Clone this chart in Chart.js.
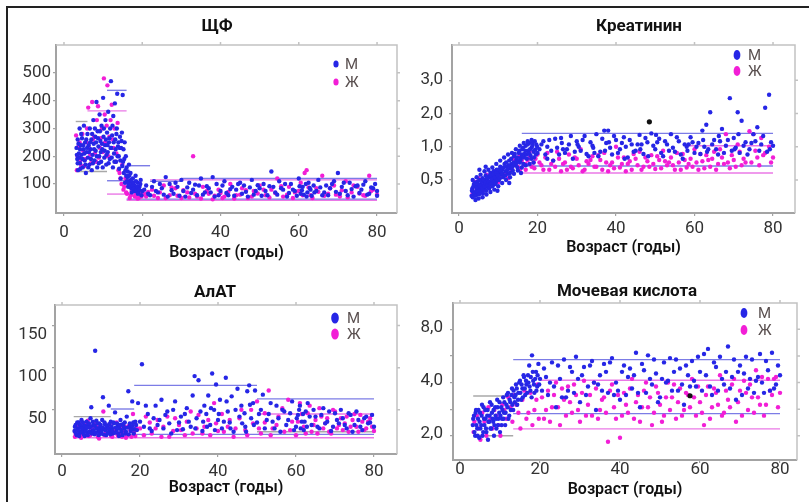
<!DOCTYPE html>
<html>
<head>
<meta charset="utf-8">
<script src="https://cdn.jsdelivr.net/npm/chart.js@4.4.0/dist/chart.umd.min.js"></script>
<style>
body { margin:0; background:#fff; width:809px; height:502px; overflow:hidden; position:relative; }
.frame { position:absolute; left:6px; top:6px; width:830px; height:520px; border-top:2px solid #222; border-left:2px solid #222; }
canvas { position:absolute; }
</style>
</head>
<body>
<div class="frame"></div>
<canvas id="alp" width="400" height="260" style="left:8px;top:8px"></canvas>
<canvas id="creat" width="398" height="260" style="left:410px;top:8px"></canvas>
<canvas id="alat" width="400" height="234" style="left:8px;top:268px"></canvas>
<canvas id="ua" width="398" height="234" style="left:410px;top:268px"></canvas>
<script>
// ---- data ----
var seriesLabels = ['М', 'Ж'];
var xTitle = 'Возраст (годы)';
var ageTicks = [0, 20, 40, 60, 80];

// ЩФ
var alpTicks = [100, 200, 300, 400, 500];
var alpM = [[3.2,230],[3.4,190],[3.5,260],[3.6,150],[3.8,210],[4.0,300],[4.1,175],[4.3,240],[4.5,205],[4.6,265],[4.8,160],[5.0,225],[5.1,310],[5.3,185],[5.4,250],[5.6,140],[5.8,215],[6.0,280],[6.1,195],[6.3,240],[6.5,170],[6.6,300],[6.8,225],[7.0,260],[7.1,150],[7.3,205],[7.5,330],[7.6,245],[7.8,185],[8.0,270],[8.1,220],[8.3,395],[8.5,160],[8.6,290],[8.8,235],[9.0,200],[9.1,350],[9.3,255],[9.5,180],[9.6,310],[9.8,225],[10.0,410],[10.1,270],[10.3,195],[10.5,240],[10.6,330],[10.8,170],[11.0,285],[11.2,215],[11.3,360],[11.5,250],[11.7,190],[11.8,300],[12.0,470],[12.1,230],[12.3,275],[12.5,160],[12.6,345],[12.8,210],[13.0,390],[13.1,260],[13.3,180],[13.5,300],[13.6,425],[13.8,235],[14.0,200],[14.1,155],[14.3,270],[14.5,120],[14.6,230],[14.8,285],[15.0,420],[15.1,180],[15.3,140],[15.5,250],[15.6,105],[15.8,200],[16.0,160],[16.2,125],[16.4,90],[16.6,170],[16.8,110],[17.0,140],[17.2,85],[17.4,100],[17.6,120],[17.8,75],[18.0,95],[18.3,130],[18.5,80],[18.8,105],[19.0,70],[19.3,90],[19.6,115],[20.0,75],
  [3.3,205],[3.5,175],[3.7,245],[3.9,195],[4.1,225],[4.2,155],[4.4,280],[4.7,190],[4.9,240],[5.2,210],[5.5,170],[5.7,260],[5.9,230],[6.2,160],[6.4,215],[6.7,250],[6.9,190],[7.2,280],[7.4,175],[7.7,225],[7.9,300],[8.2,250],[8.4,200],[8.7,265],[8.9,175],[9.2,290],[9.4,215],[9.7,245],[9.9,160],[10.2,300],[10.4,220],[10.7,260],[10.9,205],[11.1,240],[11.4,175],[11.6,265],[11.9,230],[12.2,195],[12.4,310],[12.7,250],[12.9,180],[13.2,225],[13.4,280],[13.7,200],[13.9,250],[14.2,230],[14.4,185],[14.7,255],[14.9,165],[15.2,225],[15.4,190],[15.7,150],[15.9,130],[16.1,110],[16.3,145],[16.5,100],[16.7,130],[16.9,90],[17.1,115],[17.3,70],[17.5,95],[17.7,105],[17.9,85],[18.2,75],[18.4,110],[18.7,90],[18.9,65],[19.2,80],[19.5,100],[19.8,60],
  [21,95],[22,60],[23,110],[24,70],[25,85],[26,125],[26.5,55],[27,100],[28,65],[29,90],[30,115],[30.5,75],[31,55],[32,105],[33,80],[34,60],[34.5,95],[35,120],[36,70],[37,85],[38,125],[38.5,55],[39,100],[40,75],[41,110],[42,60],[43,90],[44,80],[45,105],[45.5,65],[46,95],[47,55],[48,115],[49,75],[50,85],[51,100],[52,60],[53,145],[53.5,90],[54,70],[55,110],[56,80],[57,55],[58,100],[59,75],[60,120],[60.5,65],[61,90],[62,55],[62.5,105],[63,80],[64,70],[65,115],[66,60],[67,95],[68,85],[69,110],[70,140],[70.5,65],[71,90],[72,75],[73,105],[74,55],[75,95],[76,80],[77,110],[78,65],[79,85],[80,75],[79.5,100],
  [20.5,80],[21.5,65],[22.5,90],[23.5,75],[24.5,100],[25.5,62],[27.5,78],[28.5,105],[29.5,58],[31.5,88],[32.5,68],[33.5,98],[35.5,62],[36.5,92],[37.5,70],[39.5,60],[40.5,95],[41.5,68],[42.5,82],[43.5,58],[44.5,100],[46.5,72],[47.5,88],[48.5,62],[49.5,96],[50.5,58],[51.5,75],[52.5,92],[54.5,62],[55.5,85],[56.5,100],[57.5,68],[58.5,80],[59.5,58],[60.2,92],[60.8,78],[61.3,62],[61.8,100],[62.2,70],[62.8,86],[63.3,58],[63.8,95],[64.5,75],[65.5,88],[66.5,70],[67.5,60],[68.5,100],[69.5,72],[71.5,105],[72.5,60],[73.5,82],[74.5,92],[75.5,68],[76.5,98],[77.5,62],[78.5,88],[80,58]];
var alpF = [[3.1,275],[3.3,150],[3.7,235],[4.2,185],[4.7,280],[5.2,165],[5.7,250],[6.2,375],[6.7,205],[7.2,395],[7.7,270],[8.2,180],[8.7,380],[9.2,230],[9.7,300],[10.2,480],[10.4,350],[10.7,200],[11.1,455],[11.6,270],[12.2,385],[12.7,230],[13.2,180],[13.7,320],[14.2,140],[14.7,100],[15.2,80],[15.7,120],[16.1,65],[16.5,95],[17.1,60],[17.5,80],[18.1,55],[18.6,70],[19.1,50],[19.5,62],
  [3.5,200],[4.0,250],[4.4,165],[4.9,220],[5.4,190],[5.9,300],[6.4,230],[6.9,175],[7.4,260],[7.9,210],[8.4,330],[8.9,195],[9.4,265],[9.9,215],[10.5,250],[10.9,310],[11.4,200],[11.9,330],[12.4,260],[12.9,300],[13.4,210],[13.9,150],[14.4,120],[14.9,170],[15.4,90],[15.9,70],[16.3,110],[16.8,50],[17.3,75],[17.8,90],[18.3,62],[18.8,48],[19.3,75],[19.8,55],
  [21,55],[22.5,80],[24,50],[25.5,95],[27,60],[28.5,85],[30,50],[31.5,70],[33,200],[34,55],[35.5,90],[37,65],[38,45],[39.5,80],[41,55],[42.5,100],[44,60],[45.5,85],[47,50],[48.5,75],[50,95],[51.5,60],[53,80],[54.5,120],[56,55],[57.5,90],[59,70],[60.5,105],[61.5,140],[62,150],[63,60],[64.5,85],[66,130],[67.5,65],[69,95],[70.5,55],[72,110],[73.5,70],[75,90],[76.5,60],[78,130],[79,80],
  [20.5,65],[21.5,72],[23,58],[24.5,70],[26,50],[27.5,88],[29,58],[30.5,78],[32,52],[33.5,65],[35,48],[36.5,75],[38.5,58],[40,68],[40.5,50],[42,72],[43.5,48],[45,62],[46.5,78],[48,55],[49.5,66],[51,80],[52.5,52],[54,68],[55.5,92],[57,62],[58.5,50],[60,75],[61,60],[62.5,88],[63.5,50],[65,72],[66.5,58],[68,85],[69.5,62],[71,78],[72.5,52],[74,95],[75.5,66],[77,58],[78.5,75],[80,62]];
// [sex, age from, age to, limit]
var alpLimits = [['N',3,6,325],['N',3,11,145],['F',6,16,363],['M',11,16,437],['M',11,16,112],['M',16,22,166],['F',11,19,64],['M',22,30,110],['F',22,80,115],['M',30,80,120],['M',16,80,46],['F',16,80,42]];

// Креатинин
var creatTicks = [0.5, 1, 2, 4];
var creatTickLabels = ['0,5', '1,0', '2,0', '3,0'];
var creatM = [[3.2,0.36],[3.4,0.42],[3.6,0.39],[3.8,0.46],[4.0,0.37],[4.2,0.44],[4.4,0.40],[4.6,0.48],[4.8,0.38],[5.0,0.43],[5.2,0.50],[5.4,0.41],[5.6,0.46],[5.8,0.39],[6.0,0.52],[6.2,0.44],[6.4,0.48],[6.6,0.41],[6.8,0.55],[7.0,0.46],[7.2,0.50],[7.4,0.43],[7.6,0.53],[7.8,0.47],[8.0,0.58],[8.2,0.49],[8.4,0.54],[8.6,0.45],[8.8,0.60],[9.0,0.51],[9.2,0.56],[9.4,0.48],[9.6,0.62],[9.8,0.53],[10.0,0.58],[10.2,0.50],[10.5,0.66],[10.8,0.56],[11.0,0.62],[11.3,0.53],[11.6,0.70],[11.9,0.60],[12.2,0.66],[12.5,0.57],[12.8,0.75],[13.1,0.64],[13.4,0.70],[13.7,0.61],[14.0,0.82],[14.3,0.68],[14.6,0.76],[14.9,0.65],[15.2,0.88],[15.5,0.72],[15.8,0.80],[16.1,0.95],[16.4,0.70],[16.7,0.86],[17.0,1.02],[17.3,0.78],[17.6,0.92],[17.9,1.08],[18.2,0.84],[18.5,0.98],[18.8,1.10],[19.1,0.80],[19.4,0.94],[19.7,1.05],[20.0,0.88],
  [3.3,0.40],[3.5,0.35],[3.7,0.44],[3.9,0.38],[4.1,0.47],[4.3,0.36],[4.5,0.43],[4.7,0.39],[4.9,0.46],[5.1,0.37],[5.3,0.45],[5.5,0.40],[5.7,0.49],[5.9,0.42],[6.1,0.38],[6.3,0.50],[6.5,0.44],[6.7,0.47],[6.9,0.40],[7.1,0.52],[7.3,0.45],[7.5,0.48],[7.7,0.42],[7.9,0.55],[8.1,0.46],[8.3,0.51],[8.5,0.44],[8.7,0.56],[8.9,0.48],[9.1,0.53],[9.3,0.46],[9.5,0.58],[9.7,0.50],[9.9,0.55],[10.1,0.62],[10.4,0.52],[10.7,0.60],[11.1,0.57],[11.4,0.65],[11.8,0.55],[12.0,0.72],[12.4,0.62],[12.7,0.68],[13.0,0.58],[13.3,0.78],[13.6,0.66],[13.9,0.72],[14.2,0.86],[14.5,0.70],[14.8,0.80],[15.1,0.74],[15.4,0.92],[15.7,0.76],[16.0,0.85],[16.3,0.98],[16.6,0.80],[16.9,0.92],[17.2,0.85],[17.5,1.05],[17.8,0.88],[18.1,0.95],[18.4,0.78],[18.7,1.02],[19.0,0.90],[19.3,1.12],[19.6,0.85],[19.9,1.00],
  [3.5,0.50],[4.5,0.53],[5.5,0.56],[6.5,0.60],[4.2,0.33],[5.0,0.34],[6.0,0.35],[7.0,0.37],[8.0,0.39],[9.0,0.41],[10.0,0.44],[11.0,0.47],[12.0,0.50],[13.0,0.53],[14.0,0.57],[15.0,0.61],[16.0,0.65],[17.0,0.68],[18.0,0.70],[19.0,0.72],[7.5,0.62],[8.5,0.65],[9.5,0.70],[10.5,0.75],[11.5,0.80],[12.5,0.85],[13.5,0.88],[14.5,0.95],[15.5,1.02],[16.5,1.08],[17.5,1.12],[18.5,1.15],[5.2,0.62],[6.8,0.66],[9.8,0.40],[12.8,0.47],[15.8,0.58],
  [21,1.05],[22,0.85],[23,1.15],[24,0.75],[25,0.98],[26,1.20],[27,0.88],[28,1.05],[29,0.78],[30,1.12],[31,0.92],[32,1.25],[33,0.82],[34,1.02],[35,1.30],[36,0.90],[37,1.40],[37.5,1.08],[38,1.40],[39,0.85],[40,1.15],[41,0.95],[42,1.22],[43,0.80],[44,1.05],[45,0.92],[46,1.28],[47,0.86],[48,1.10],[49,1.32],[50,0.95],[51,1.18],[52,0.82],[53,1.05],[54,1.30],[55,0.90],[56,1.12],[57,0.78],[58,1.00],[59,1.22],[60,0.88],[61,1.08],[62,1.40],[63,1.58],[63.5,0.95],[64,2.05],[65,1.15],[66,0.85],[67,1.45],[68,1.02],[69,2.75],[69.5,0.92],[70,1.20],[71,2.05],[71.5,0.88],[72,1.72],[73,1.10],[74,0.95],[75,1.30],[76,1.50],[77,1.05],[78,2.25],[78.5,0.90],[79,2.95],[79.5,1.10],[80,1.02],
  [22.5,1.0],[26.5,0.95],[30.5,1.0],[34.5,0.88],[38.5,0.98],[42.5,1.0],[46.5,1.05],[50.5,1.1],[54.5,0.98],[58.5,1.05],[62.5,1.0],[66.5,1.12],[70.5,0.98],[74.5,1.08],
  [20.5,0.95],[21.5,1.12],[22.5,0.78],[23.5,0.92],[24.5,1.18],[25.5,0.85],[26.2,1.08],[27.5,0.95],[28.5,1.25],[29.5,0.90],[30.2,1.05],[31.5,1.15],[32.5,0.86],[33.5,1.10],[34.2,0.98],[35.5,0.82],[36.5,1.18],[37.2,0.92],[38.2,1.10],[39.5,1.25],[40.5,0.88],[41.5,1.08],[42.2,0.78],[43.5,1.15],[44.5,0.90],[45.5,1.05],[46.2,0.95],[47.5,1.20],[48.2,0.82],[49.5,1.02],[50.2,1.28],[51.5,0.88],[52.5,1.12],[53.5,0.92],[55.5,1.22],[56.5,0.85],[57.5,1.05],[58.2,0.92],[59.5,1.10],[60.5,1.00],[61.5,0.86],[62.2,1.15],[63.2,0.90],[64.5,1.05],[65.5,0.95],[66.2,1.25],[67.5,0.88],[68.5,1.15],[70.2,0.95],[71.2,1.30],[72.5,1.02],[73.5,0.85],[75.5,1.12],[76.5,0.92],[77.5,1.25],[79.2,0.95]];
var creatF = [[4.5,0.42],[6.5,0.47],[8.5,0.50],[10.5,0.55],[12,0.58],[13.5,0.62],[15,0.66],[16,0.75],[17,0.70],[18,0.80],[19,0.72],[20,0.85],
  [3.5,0.38],[5.5,0.44],[7.5,0.48],[9.5,0.52],[11.5,0.56],[13,0.64],[14.5,0.70],[15.5,0.62],[16.5,0.68],[17.5,0.76],[18.5,0.66],[19.5,0.78],
  [4.0,0.48],[5.0,0.52],[6.0,0.40],[7.0,0.56],[8.0,0.44],[9.0,0.60],[10.0,0.48],[11.0,0.64],[12.5,0.52],[14.0,0.76],[15.5,0.84],[17.0,0.62],[18.0,0.90],[19.2,0.64],
  [21,0.68],[22,0.80],[23,0.62],[24,0.75],[25,0.90],[26,0.60],[27,0.72],[28,0.85],[29,0.64],[30,0.78],[31,0.95],[32,0.62],[33,0.70],[34,0.82],[35,0.66],[36,0.76],[37,0.88],[38,0.60],[39,0.72],[40,1.00],[41,0.65],[42,0.80],[43,0.70],[44,0.62],[45,0.78],[46,0.90],[47,0.66],[48,0.74],[49,0.84],[50,0.63],[51,0.76],[52,0.92],[53,0.68],[54,0.80],[55,0.62],[56,0.72],[57,0.86],[58,0.65],[59,0.78],[60,0.95],[61,0.62],[62,0.74],[63,0.84],[64,0.66],[65,0.90],[66,0.70],[67,0.80],[68,1.30],[69,0.64],[70,0.76],[71,1.05],[72,0.68],[73,0.72],[74,1.38],[75,1.30],[76,0.80],[77,1.20],[78,0.88],[79,1.00],[80,0.80],
  [23.5,0.7],[28.5,0.66],[33.5,0.76],[38.5,0.68],[43.5,0.74],[48.5,0.66],[53.5,0.72],[58.5,0.7],[63.5,0.76],[68.5,0.72],
  [20.5,0.72],[21.5,0.62],[22.5,0.88],[24.5,0.66],[25.5,0.78],[26.5,0.70],[27.5,0.62],[29.5,0.80],[30.5,0.68],[31.5,0.60],[32.5,0.74],[34.5,0.66],[35.5,0.84],[36.5,0.62],[37.5,0.72],[39.5,0.64],[40.5,0.80],[41.5,0.70],[42.5,0.60],[44.5,0.86],[45.5,0.68],[46.5,0.62],[47.5,0.80],[49.5,0.70],[50.5,0.82],[51.5,0.64],[52.5,0.74],[54.5,0.68],[55.5,0.88],[56.5,0.62],[57.5,0.76],[59.5,0.66],[60.5,0.72],[61.5,0.86],[62.5,0.64],[64.5,0.78],[65.5,0.62],[66.5,0.95],[67.5,0.70],[69.5,0.84],[70.5,0.66],[71.5,0.90],[72.5,0.78],[74.5,0.72],[75.5,0.92],[76.5,0.68],[77.5,0.84],[79.5,0.72]];
var creatOther = [[48.5,1.68]];
var creatLimits = [['M',16,80,1.32],['F',58,80,1.02],['M',16,80,0.67],['F',16,80,0.58]];

// АлАТ
var alatTicks = [50, 100, 150];
var alatM = [[3.2,25],[3.5,32],[3.8,20],[4.0,28],[4.3,35],[4.5,22],[4.8,30],[5.0,38],[5.3,24],[5.5,31],[5.8,19],[6.0,27],[6.3,36],[6.5,23],[6.8,33],[7.0,29],[7.3,40],[7.5,53],[7.8,25],[8.0,32],[8.3,21],[8.5,120],[8.8,37],[9.0,28],[9.3,24],[9.5,34],[9.8,30],[10.0,22],[10.3,38],[10.5,65],[10.8,27],[11.0,33],[11.3,20],[11.6,30],[12.0,55],[12.2,25],[12.5,36],[12.8,28],[13.0,22],[13.3,34],[13.6,47],[14.0,26],[14.3,31],[14.6,19],[15.0,38],[15.3,24],[15.6,33],[16.0,28],[16.3,22],[16.6,42],[17.0,72],[17.3,30],[17.6,25],[18.0,60],[18.3,35],[18.6,27],[19.0,32],[19.5,58],
  [3.3,30],[3.6,22],[3.9,35],[4.1,26],[4.4,19],[4.6,32],[4.9,24],[5.1,28],[5.4,35],[5.6,21],[5.9,31],[6.1,25],[6.4,29],[6.6,20],[6.9,34],[7.1,24],[7.4,30],[7.6,22],[7.9,36],[8.1,26],[8.4,31],[8.6,23],[8.9,28],[9.1,34],[9.4,20],[9.6,27],[9.9,32],[10.1,25],[10.4,29],[10.6,21],[10.9,35],[11.1,26],[11.4,31],[11.7,23],[11.9,28],[12.1,33],[12.4,21],[12.7,30],[12.9,25],[13.2,35],[13.5,23],[13.8,29],[14.1,34],[14.4,22],[14.7,28],[14.9,32],[15.2,26],[15.5,20],[15.8,30],[16.1,35],[16.4,24],[16.8,29],[17.1,21],[17.4,34],[17.8,27],[18.1,31],[18.4,22],[18.8,36],[19.2,26],
  [20.5,104],[21,30],[22,45],[23,25],[24,55],[25,38],[25.5,62],[26,28],[27,48],[28,22],[29,60],[30,35],[30.5,42],[31,27],[32,52],[33,30],[33.5,67],[34,90],[34.5,40],[35,85],[36,25],[36.5,55],[37,45],[37.5,67],[38,32],[38.5,93],[39,50],[39.5,80],[40,38],[40.5,62],[41,28],[42,88],[42.5,48],[43,35],[43.5,66],[44,24],[45,75],[45.5,42],[46,55],[47,30],[47.5,72],[48,79],[48.5,40],[49,58],[49.5,73],[50,35],[51,50],[51.5,68],[52,28],[53,45],[54,36],[55,55],[56,24],[57,48],[58,38],[59,60],[60,30],[60.5,44],[61,55],[61.5,36],[62,26],[62.5,48],[63,58],[64,32],[65,42],[66,28],[67,52],[68,36],[69,25],[70,46],[71,34],[72,40],[73,28],[74,44],[75,32],[76,38],[77,26],[78,42],[79,35],[80,30],
  [20,36],[21.5,55],[22.5,28],[23.5,40],[24.5,32],[26.5,44],[27.5,34],[28.5,50],[29.5,26],[31.5,45],[32.5,36],[34.2,28],[35.5,48],[36.2,36],[37.2,30],[38.2,52],[39.2,26],[40.2,45],[41.5,36],[42.2,60],[43.2,28],[44.5,50],[46.2,34],[46.8,46],[47.2,24],[48.2,56],[49.2,32],[50.5,45],[52.5,38],[53.5,58],[54.5,28],[55.5,40],[56.5,50],[57.5,32],[58.5,46],[59.5,26],[60.2,40],[60.8,50],[61.2,28],[61.8,45],[62.2,36],[62.8,30],[63.5,42],[64.5,50],[65.5,30],[66.5,44],[67.5,34],[68.5,48],[69.5,30],[70.5,38],[71.5,50],[72.5,32],[73.5,46],[74.5,24],[75.5,48],[76.5,30],[77.5,40],[78.5,34],[79.5,44]];
var alatF = [[3.3,18],[3.9,26],[4.6,33],[5.2,21],[5.9,29],[6.6,37],[7.2,20],[7.9,28],[8.6,34],[9.2,18],[9.9,26],[10.6,48],[11.2,23],[11.9,30],[12.6,19],[13.3,27],[14.0,35],[14.7,22],[15.4,18],[16.1,30],[16.8,20],[17.5,26],[18.2,45],[18.8,19],
  [3.5,22],[4.2,30],[4.9,17],[5.5,25],[6.2,32],[6.9,19],[7.5,27],[8.2,22],[8.9,30],[9.5,16],[10.2,28],[10.9,20],[11.5,26],[12.2,33],[12.9,18],[13.6,25],[14.3,20],[15.0,29],[15.7,24],[16.4,17],[17.1,31],[17.8,18],[18.5,24],[19.2,28],
  [21,20],[22.5,35],[24,28],[25.5,18],[27,42],[28.5,25],[30,32],[31.5,20],[33,48],[34.5,28],[36,22],[37.5,38],[39,58],[40,25],[41,45],[42.5,30],[44,18],[45.5,40],[47,26],[48.5,50],[50,60],[51,22],[52,35],[53,73],[54,28],[55.5,42],[57,24],[58,62],[59,36],[60,20],[61,58],[62,30],[63,46],[64,24],[65,38],[66,52],[67,28],[68,40],[69,22],[70,48],[71,32],[72,26],[73,42],[74,30],[75,45],[76,24],[77,36],[78,28],[79,40],[80,25],
  [20,28],[21.5,42],[23,22],[24.5,38],[26,30],[27.5,18],[29,40],[30.5,26],[32,36],[33.5,22],[35,44],[36.5,30],[38,20],[39.5,34],[41.5,24],[43,38],[44.5,28],[46,50],[47.5,20],[49,34],[50.5,28],[52,46],[53.5,20],[55,32],[56.5,52],[58.5,26],[60.5,36],[61.5,45],[62.5,22],[63.5,55],[64.5,32],[65.5,22],[66.5,42],[67.5,34],[68.5,24],[69.5,50],[70.5,28],[71.5,40],[72.5,34],[73.5,24],[74.5,38],[75.5,30],[76.5,44],[77.5,26],[78.5,36],[79.5,30]];
var alatLimits = [['M',18.5,50,79],['M',50,80,63],['M',12.5,18.5,51],['F',50,80,45],['N',3,12.5,42],['N',50,80,24],['M',3,80,21],['F',3,80,17]];

// Мочевая кислота
var uaTicks = [2, 2.83, 4, 5.66, 8];
var uaTickLabels = ['2,0', '', '4,0', '', '8,0'];
var uaM = [[3.2,2.3],[3.5,2.6],[3.8,2.0],[4.0,2.8],[4.3,2.2],[4.5,2.5],[4.8,1.95],[5.0,2.7],[5.3,2.3],[5.5,3.0],[5.8,2.1],[6.0,2.5],[6.3,2.8],[6.5,2.2],[6.8,2.6],[7.0,1.9],[7.3,2.4],[7.5,3.1],[7.8,2.2],[8.0,2.7],[8.3,2.4],[8.5,2.0],[8.8,2.9],[9.0,2.5],[9.3,3.2],[9.5,2.3],[9.8,2.7],[10.0,2.1],[10.3,2.9],[10.5,2.5],[10.8,3.3],[11.0,2.7],[11.3,2.3],[11.6,3.0],[12.0,3.5],[12.3,2.6],[12.6,3.1],[13.0,3.7],[13.3,2.8],[13.6,3.3],[14.0,3.9],[14.3,3.0],[14.6,3.5],[15.0,4.1],[15.3,3.2],[15.6,3.7],[16.0,4.3],[16.3,3.4],[16.6,3.9],[17.0,4.4],[17.3,5.0],[17.6,3.6],[18.0,5.7],[18.3,4.1],[18.6,3.5],[19.0,4.6],[19.3,3.8],[19.6,5.1],[20.0,4.2],
  [3.3,2.5],[3.6,2.1],[3.9,2.7],[4.1,2.3],[4.4,2.0],[4.6,2.8],[4.9,2.4],[5.1,2.2],[5.4,2.6],[5.6,2.0],[5.9,2.9],[6.1,2.3],[6.4,2.5],[6.6,2.1],[6.9,2.8],[7.1,2.4],[7.4,2.6],[7.6,2.2],[7.9,3.0],[8.1,2.5],[8.4,2.8],[8.6,2.3],[8.9,2.6],[9.1,2.2],[9.4,2.9],[9.6,2.5],[9.9,3.1],[10.1,2.6],[10.4,2.3],[10.6,2.8],[10.9,2.5],[11.1,3.1],[11.4,2.7],[11.7,3.4],[11.9,2.9],[12.1,2.5],[12.4,3.2],[12.7,2.8],[12.9,3.4],[13.1,3.0],[13.4,3.6],[13.7,3.1],[13.9,3.4],[14.2,3.7],[14.5,3.2],[14.8,4.0],[15.1,3.5],[15.4,3.9],[15.7,3.3],[15.9,4.4],[16.2,3.7],[16.5,4.1],[16.8,3.5],[17.1,4.0],[17.4,3.8],[17.7,4.3],[17.9,3.3],[18.2,4.6],[18.5,3.9],[18.8,4.2],[19.1,3.6],[19.4,4.4],[19.8,3.9],
  [21,4.8],[22,3.4],[23,5.2],[24,2.9],[25,4.2],[26,5.4],[27,3.6],[28,4.6],[29,5.6],[30,3.1],[31,4.9],[32,3.8],[33,5.3],[34,2.8],[35,4.4],[36,5.1],[37,3.5],[38,5.5],[39,4.0],[40,3.2],[41,5.0],[42,4.3],[43,3.7],[44,5.9],[45,2.9],[46,4.7],[47,5.7],[48,3.9],[49,4.5],[50,3.3],[51,5.2],[52,4.1],[53,3.6],[54,5.4],[55,4.8],[56,3.0],[57,4.4],[58,5.3],[59,3.8],[60,4.6],[61,5.8],[62,6.2],[63,3.4],[64,4.9],[65,5.6],[66,3.9],[67,6.4],[68,4.3],[69,3.2],[70,5.0],[71,4.5],[72,3.7],[73,5.4],[74,4.1],[75,5.8],[76,3.5],[77,4.7],[78,5.9],[79,3.9],[80,4.4],
  [22.5,4.0],[26.5,3.3],[30.5,4.4],[34.5,3.9],[38.5,3.4],[42.5,4.8],[46.5,3.5],[50.5,4.2],[54.5,3.6],[58.5,4.1],[62.5,3.8],[66.5,4.6],[70.5,3.4],[74.5,4.3],[78.5,3.7],
  [20.5,3.6],[21.5,4.3],[23.5,3.8],[24.5,5.0],[25.5,3.3],[27.5,4.9],[28.5,3.5],[29.5,4.2],[31.5,3.4],[32.5,5.0],[33.5,4.0],[35.5,3.6],[36.5,4.6],[37.5,5.2],[39.5,3.6],[40.5,4.6],[41.5,3.4],[43.5,4.4],[44.5,3.5],[45.5,5.1],[47.5,4.2],[48.5,5.4],[49.5,3.1],[51.5,4.0],[52.5,5.5],[53.5,4.6],[55.5,3.9],[56.5,5.0],[57.5,3.8],[59.5,5.6],[60.5,3.6],[61.5,4.4],[63.5,5.2],[64.5,3.6],[65.5,4.2],[67.5,3.7],[68.5,5.4],[69.5,4.6],[71.5,5.6],[72.5,4.2],[73.5,3.5],[75.5,4.0],[76.5,5.3],[77.5,3.6],[79.5,5.0]];
var uaF = [[3.4,2.1],[4.2,2.6],[5.1,1.9],[6.1,2.4],[7.1,2.9],[8.1,2.2],[9.1,2.6],[10.1,2.0],[11.1,2.8],[12.1,3.3],[13.1,2.4],[14.1,3.0],[15.1,2.2],[16.1,3.6],[17.1,2.7],[18.1,2.3],[19.1,3.2],[19.7,2.5],
  [3.6,2.4],[4.6,2.2],[5.6,2.7],[6.6,2.0],[7.6,2.5],[8.6,2.8],[9.6,2.3],[10.6,3.0],[11.6,2.5],[12.6,2.9],[13.6,3.4],[14.6,2.7],[15.6,3.2],[16.6,2.5],[17.6,3.5],[18.6,2.8],[19.4,3.9],
  [21,2.5],[22,3.6],[23,2.9],[24,4.0],[25,2.3],[26,3.2],[27,3.8],[28,2.7],[29,3.4],[30,2.4],[31,4.1],[32,3.0],[33,2.6],[34,3.7],[35,2.8],[36,3.3],[37,1.85],[38,3.9],[39,2.5],[40,1.95],[41,3.5],[42,2.7],[43,4.2],[44,3.1],[45,2.4],[46,3.6],[47,2.9],[48,2.3],[49,3.8],[50,3.0],[51,2.6],[52,4.0],[53,3.3],[54,2.5],[55,3.7],[56,2.8],[57,3.4],[58,4.2],[59,2.6],[60,3.1],[61,2.3],[62,3.8],[63,2.9],[64,3.5],[65,4.4],[66,2.7],[67,3.2],[68,3.9],[69,2.4],[70,3.6],[71,4.1],[72,2.8],[73,3.3],[74,4.7],[75,3.0],[76,2.6],[77,4.2],[78,3.4],[79,4.3],[80,3.5],
  [20.5,3.3],[21.5,2.8],[22.5,2.4],[23.5,3.4],[24.5,2.9],[25.5,3.7],[26.5,2.6],[27.5,3.1],[28.5,3.9],[29.5,2.8],[30.5,3.5],[31.5,2.6],[32.5,3.4],[33.5,4.0],[34.5,2.5],[35.5,3.2],[36.5,2.7],[37.5,3.6],[38.5,2.9],[39.5,3.4],[40.5,2.6],[41.5,3.0],[42.5,3.7],[43.5,2.5],[44.5,3.4],[45.5,2.9],[46.5,4.0],[47.5,3.3],[48.5,2.7],[49.5,3.5],[50.5,2.4],[51.5,3.3],[52.5,2.8],[53.5,3.9],[54.5,3.1],[55.5,2.6],[56.5,3.5],[57.5,2.9],[58.5,3.3],[59.5,3.8],[60.5,2.7],[61.5,3.4],[62.5,2.5],[63.5,3.7],[64.5,3.0],[65.5,2.6],[66.5,3.6],[67.5,2.9],[68.5,4.2],[69.5,3.1],[70.5,2.6],[71.5,3.5],[72.5,3.9],[73.5,2.7],[74.5,3.3],[75.5,4.3],[76.5,3.0],[77.5,3.6],[78.5,4.2],[79.5,2.9]];
var uaOther = [[57.5,3.37]];
var uaLimits = [['M',13.3,80,5.39],['F',20,80,4.12],['M',13.3,80,2.67],['F',13.3,80,2.19],['N',3.3,13.3,3.36],['N',3.3,13.3,2.0]];

// ---- styles ----
var colM = '#2626e6', colF = '#f21ed6';
var limitColors = { M: '#7c7ce6', F: '#ea78e6', N: '#a8a8a8' };
var FONT = 'Roboto, "Open Sans", sans-serif';

function pts(arr) { return arr.map(function (p) { return { x: p[0], y: p[1] }; }); }

function limitSets(list) {
  return list.map(function (l) {
    return { data: [{ x: l[1], y: l[3] }, { x: l[2], y: l[3] }], showLine: true, pointRadius: 0,
      borderColor: limitColors[l[0]], borderWidth: 1.4, order: 5 };
  });
}

var panelDecor = {
  id: 'panelDecor',
  afterDraw: function (chart, args, o) {
    var ctx = chart.ctx, a = chart.chartArea;
    ctx.save();
    // light top and right frame, with outside tick marks
    ctx.strokeStyle = '#c2c2c2';
    ctx.lineWidth = 1.5;
    ctx.beginPath();
    ctx.moveTo(a.left, a.top); ctx.lineTo(a.right, a.top); ctx.lineTo(a.right, a.bottom);
    chart.scales.x.ticks.forEach(function (t) {
      var px = chart.scales.x.getPixelForValue(t.value);
      ctx.moveTo(px, a.top); ctx.lineTo(px, a.top - 3);
    });
    chart.scales.y.ticks.forEach(function (t) {
      var py = chart.scales.y.getPixelForValue(t.value);
      ctx.moveTo(a.right, py); ctx.lineTo(a.right + 3, py);
    });
    ctx.stroke();
    // title
    ctx.fillStyle = '#111';
    ctx.font = 'bold 17px ' + FONT;
    ctx.textAlign = 'center';
    ctx.textBaseline = 'middle';
    ctx.fillText(o.title, o.tx, o.ty);
    // legend
    ctx.font = '15px ' + FONT;
    ctx.textAlign = 'left';
    [0, 1].forEach(function (i) {
      var ds = chart.data.datasets[i];
      var y = o.ly + i * o.lgap;
      ctx.fillStyle = ds.backgroundColor;
      ctx.beginPath();
      ctx.ellipse(o.lx, y, o.mw, o.mh, 0, 0, Math.PI * 2);
      ctx.fill();
      ctx.fillStyle = '#5a5050';
      ctx.fillText(ds.label, o.lx + o.tdx, y + 1);
    });
    ctx.restore();
  }
};

function makePanel(id, p) {
  var datasets = [
    { label: seriesLabels[0], data: pts(p.m), backgroundColor: colM, pointRadius: 2.2, pointBorderWidth: 0, order: 1 },
    { label: seriesLabels[1], data: pts(p.f), backgroundColor: colF, pointRadius: 2.2, pointBorderWidth: 0, order: 2 }
  ];
  if (p.other) datasets.push({ label: '', data: pts(p.other), backgroundColor: '#111', pointRadius: 2.6, pointBorderWidth: 0, order: 0 });
  datasets = datasets.concat(limitSets(p.limits));

  var axisLine = { color: '#a3a3a3', width: 2 };
  var tickGrid = { drawOnChartArea: false, drawTicks: true, tickLength: 3, color: '#a3a3a3', lineWidth: 1.2 };

  new Chart(document.getElementById(id), {
    type: 'scatter',
    data: { datasets: datasets },
    options: {
      responsive: false,
      animation: false,
      devicePixelRatio: 1,
      layout: { padding: p.pad },
      plugins: { legend: { display: false }, tooltip: { enabled: false }, panelDecor: p.decor },
      scales: {
        x: {
          type: 'linear', min: p.xmin, max: p.xmax,
          border: axisLine, grid: tickGrid,
          afterFit: function (s) { s.height = p.xh; },
          afterBuildTicks: function (s) { s.ticks = ageTicks.map(function (v) { return { value: v }; }); },
          ticks: { padding: p.xpad, color: '#333', font: { family: FONT, size: 17 }, maxRotation: 0, autoSkip: false },
          title: { display: true, text: xTitle, color: '#111', padding: 0, font: { family: FONT, size: 16, weight: '600' } }
        },
        y: {
          type: p.ylog ? 'logarithmic' : 'linear', min: p.ymin, max: p.ymax,
          border: axisLine, grid: tickGrid,
          afterFit: function (s) { s.width = 40; },
          afterBuildTicks: function (s) { s.ticks = p.yticks.map(function (v) { return { value: v }; }); },
          ticks: {
            padding: p.ypad, color: '#333', font: { family: FONT, size: 17 }, autoSkip: false, labelOffset: p.yoff || 0,
            callback: function (v, i) { return p.ylabels ? p.ylabels[i] : String(v); }
          }
        }
      }
    },
    plugins: [panelDecor]
  });
}

makePanel('alp', {
  m: alpM, f: alpF, limits: alpLimits, yticks: alpTicks,
  xmin: -2.04, xmax: 85.1, ymin: -4, ymax: 600,
  pad: { left: 8, right: 11, top: 37, bottom: 5 }, xh: 50, xpad: 7, ypad: 2,
  decor: { title: 'ЩФ', tx: 209, ty: 19, lx: 328, ly: 56, lgap: 18, mw: 2.6, mh: 3.6, tdx: 9 }
});
makePanel('creat', {
  m: creatM, f: creatF, other: creatOther, limits: creatLimits, yticks: creatTicks, ylabels: creatTickLabels, ylog: true,
  xmin: -1.78, xmax: 85.6, ymin: 0.252, ymax: 8.31,
  pad: { left: 2, right: 13, top: 37, bottom: 10 }, xh: 45, xpad: 3, ypad: 6,
  decor: { title: 'Креатинин', tx: 229, ty: 19, lx: 327, ly: 47, lgap: 16, mw: 3.4, mh: 5, tdx: 11 }
});
makePanel('alat', {
  m: alatM, f: alatF, limits: alatLimits, yticks: alatTicks,
  xmin: -1.8, xmax: 85.9, ymin: -2.3, ymax: 174.2, yoff: 9,
  pad: { left: 7, right: 11, top: 37, bottom: 4 }, xh: 44, xpad: 5, ypad: 5,
  decor: { title: 'АлАТ', tx: 207, ty: 25, lx: 327, ly: 50, lgap: 16, mw: 3.8, mh: 5.6, tdx: 12 }
});
makePanel('ua', {
  m: uaM, f: uaF, other: uaOther, limits: uaLimits, yticks: uaTicks, ylabels: uaTickLabels, ylog: true,
  xmin: -1.75, xmax: 84.25, ymin: 1.46, ymax: 11.27, yoff: -2,
  pad: { left: 3, right: 11, top: 35, bottom: 2 }, xh: 40, xpad: -3, ypad: 7,
  decor: { title: 'Мочевая кислота', tx: 217, ty: 24, lx: 334, ly: 45, lgap: 17, mw: 3.4, mh: 5, tdx: 14 }
});
</script>
</body>
</html>
